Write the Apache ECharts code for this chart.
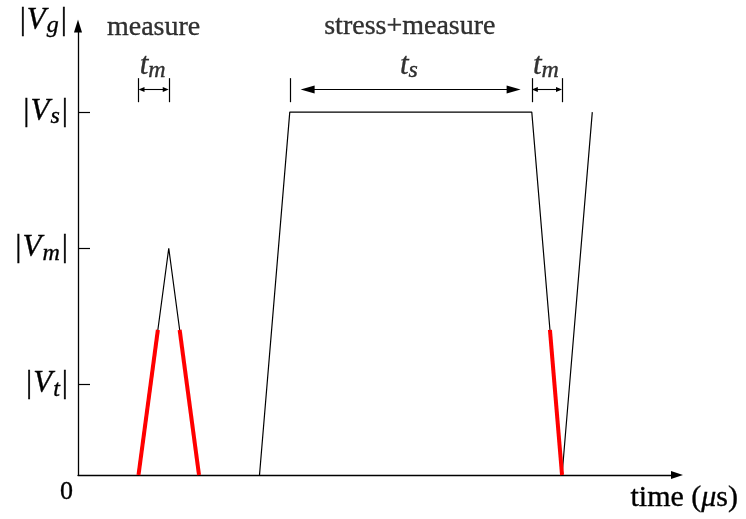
<!DOCTYPE html>
<html>
<head>
<meta charset="utf-8">
<script src="https://cdn.jsdelivr.net/npm/echarts@6/dist/echarts.min.js"></script>
<style>
  html, body { margin: 0; padding: 0; background: #fff; }
  #chart { width: 746px; height: 519px; }
</style>
</head>
<body>
<div id="chart"></div>
<script>
// Gate-voltage levels on the vertical axis (arbitrary units)
const levelValues = [0, 1, 2.5, 4];
const levelLabels = ['{z|0}', '{b||}{v|V}{s|t}{b||}', '{b||}{v|V}{s|m}{b||}', '{b||}{v|V}{s|s}{b||}'];
const tickValues = [1, 2.5, 4];

// Measure-only pulse (time, |Vg|)
const measureTime = [2, 3, 4];
const measureVolt = [0, 2.5, 0];

// Stress pulse followed by the measurement ramp
const stressTime = [6, 7, 15, 16, 17];
const stressVolt = [0, 4, 4, 0, 4];

// Portions of the ramps where the current is sensed
const senseSegments = [
  [[2, 0], [2.64, 1.6]],
  [[3.36, 1.6], [4, 0]],
  [[15.6, 1.6], [16, 0]]
];

// Interval brackets above the waveform
const bracketTicks = [2, 3, 7, 15, 16];
const bracketLow = 4.11, bracketHigh = 4.375, bracketLevel = 4.25;
// arrow shafts end at the centre of each arrowhead
const tmSpans = [[2.1, 2.9], [15.1, 15.9]];
const tsSpan = [7.59, 14.4];

// Annotation texts and their anchor points
const noteTexts = ['{r|measure}', '{r|stress+measure}', '{i|t}{s|m}', '{i|t}{s|s}', '{i|t}{s|m}'];
const notePos = [[2.5, 4.93], [10.97, 4.94], [2.5, 4.51], [10.97, 4.51], [15.5, 4.51]];

const FONT = 'Liberation Serif';
const INK = '#000';
// thin outline in the ink colour gives the serif glyphs a slightly heavier stem
const ink = { color: INK, textBorderColor: INK, textBorderWidth: 0.35 };
const rich = {
  b: Object.assign({ fontFamily: FONT, fontSize: 31, lineHeight: 34 }, ink),
  v: Object.assign({ fontFamily: FONT, fontSize: 31, lineHeight: 34, fontStyle: 'italic', padding: [0, 1, 0, 1] }, ink),
  i: Object.assign({ fontFamily: FONT, fontSize: 31, lineHeight: 34, fontStyle: 'italic' }, ink),
  s: Object.assign({ fontFamily: FONT, fontSize: 24, lineHeight: 24, fontStyle: 'italic', verticalAlign: 'top', padding: [10, 2, 0, 0] }, ink),
  r: Object.assign({ fontFamily: FONT, fontSize: 28 }, ink),
  z: Object.assign({ fontFamily: FONT, fontSize: 26, padding: [34, -5, 0, 0] }, ink),
  mu: Object.assign({ fontFamily: FONT, fontSize: 30, fontStyle: 'italic' }, ink),
  t: Object.assign({ fontFamily: FONT, fontSize: 30 }, ink)
};

const black = '#000';
const red = '#ff0000';

const chart = echarts.init(document.getElementById('chart'), null, { renderer: 'canvas' });

const series = [];

// Black waveforms
series.push({
  type: 'line', data: measureTime.map((t, k) => [t, measureVolt[k]]),
  symbol: 'none', lineStyle: { color: black, width: 1.2 }, silent: true, z: 2
});
series.push({
  type: 'line', data: stressTime.map((t, k) => [t, stressVolt[k]]),
  symbol: 'none', lineStyle: { color: black, width: 1.2 }, silent: true, z: 2,
  markLine: {
    silent: true, symbol: 'none', label: { show: false },
    lineStyle: { color: black, width: 1.2, type: 'solid' },
    data: bracketTicks.map(x => [{ coord: [x, bracketLow] }, { coord: [x, bracketHigh] }])
  }
});

// Red sensing segments
senseSegments.forEach(seg => {
  series.push({
    type: 'line', data: seg, symbol: 'none',
    lineStyle: { color: red, width: 4, cap: 'butt' }, silent: true, z: 3
  });
});

// t_m double arrows (small heads)
series.push({
  type: 'line', data: [], silent: true,
  markLine: {
    silent: true, symbol: ['triangle', 'triangle'], symbolSize: [5, 6],
    label: { show: false },
    lineStyle: { color: black, width: 1.1, type: 'solid' },
    data: tmSpans.map(s => [{ coord: [s[0], bracketLevel] }, { coord: [s[1], bracketLevel] }])
  }
});

// t_s double arrow (large heads)
series.push({
  type: 'line', data: [], silent: true,
  markLine: {
    silent: true, symbol: ['triangle', 'triangle'], symbolSize: [8, 14],
    label: { show: false },
    lineStyle: { color: black, width: 1.1, type: 'solid' },
    data: [[{ coord: [tsSpan[0], bracketLevel] }, { coord: [tsSpan[1], bracketLevel] }]]
  }
});

// Text annotations
series.push({
  type: 'scatter', data: notePos, symbolSize: 0, silent: true, z: 5,
  label: {
    show: true, position: 'inside', color: INK,
    formatter: p => noteTexts[p.dataIndex],
    rich: rich
  }
});

chart.setOption({
  animation: false,
  backgroundColor: '#fff',
  grid: { left: 78, right: 69, top: 26, bottom: 44, containLabel: false },
  xAxis: {
    type: 'value', min: 0, max: 19.8,
    name: '{t|time (}{mu|μ}{t|s)}',
    nameLocation: 'end', nameGap: 61,
    nameTextStyle: { align: 'right', verticalAlign: 'top', color: INK, padding: [8, 0, 0, 0], rich: rich },
    axisLine: { show: true, symbol: ['none', 'triangle'], symbolSize: [8, 12], lineStyle: { color: black, width: 1.3 } },
    axisTick: { show: false }, axisLabel: { show: false }, splitLine: { show: false }
  },
  yAxis: {
    type: 'value', min: 0, max: 4.95,
    name: '{b||}{v|V}{s|g}{b||}',
    nameLocation: 'end', nameGap: 5,
    nameTextStyle: { align: 'right', verticalAlign: 'middle', color: INK, padding: [0, 11, 0, 0], rich: rich },
    axisLine: { show: true, symbol: ['none', 'triangle'], symbolSize: [8, 13], lineStyle: { color: black, width: 1.3 } },
    axisTick: { show: true, inside: true, length: 12, customValues: tickValues, lineStyle: { color: black, width: 1.2 } },
    axisLabel: {
      show: true, margin: 10, customValues: levelValues, color: INK,
      formatter: v => levelLabels[levelValues.indexOf(v)],
      rich: rich
    },
    splitLine: { show: false }
  },
  series: series
});
</script>
</body>
</html>
